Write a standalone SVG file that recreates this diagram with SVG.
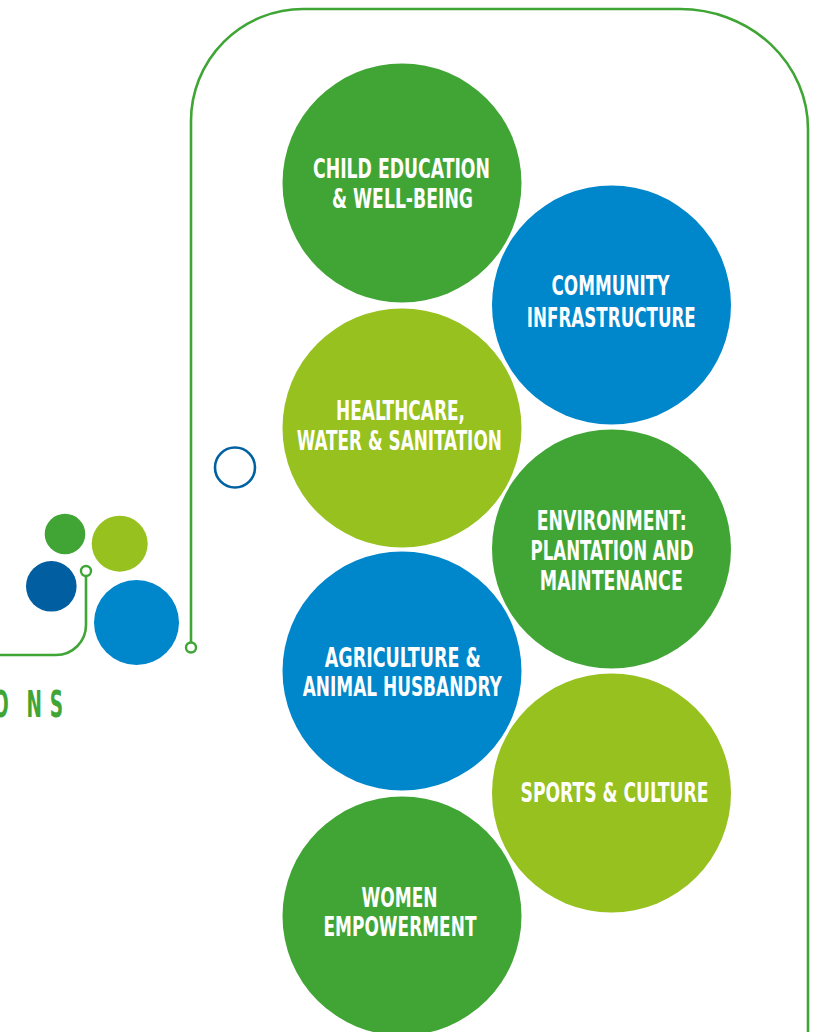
<svg xmlns="http://www.w3.org/2000/svg" width="821" height="1032" viewBox="0 0 821 1032">
<defs>
<style>
.frame{fill:none;stroke:#3fa535;stroke-width:2.6}
.g{fill:#40a535}.b{fill:#0086cb}.l{fill:#96c11f}.d{fill:#005ea1}
.t{fill:#ffffff;font-family:"DejaVu Sans Condensed","Liberation Sans Narrow","DejaVu Sans",sans-serif;font-weight:bold;font-size:27px;text-anchor:middle}
.ring{fill:#ffffff;stroke:#3fa535;stroke-width:2.4}
</style>
</defs>
<rect width="821" height="1032" fill="#ffffff"/>
<g id="connectors">
<path class="frame" d="M191,642 V121 A112,112 0 0 1 303,9 H680 A128,120 0 0 1 808,129 V1032"/>
<path class="frame" d="M86,576 V625 A30,30 0 0 1 56,655 H0"/>
</g>
<g id="logo">
<circle class="g" cx="65" cy="534" r="20.3"/>
<circle class="l" cx="119.7" cy="543.7" r="28"/>
<circle class="d" cx="51.3" cy="586.3" r="25.3"/>
<circle class="b" cx="136.5" cy="622.5" r="42.5"/>
<circle class="ring" cx="86" cy="571" r="5"/>
<circle class="ring" cx="191" cy="647.5" r="5"/>
<text transform="translate(0,717) scale(0.54,1)" fill="#40a535" font-family="DejaVu Sans Condensed, DejaVu Sans, sans-serif" font-weight="bold" font-size="38" x="-13 49 92">ONS</text>
</g>
<g id="marker-ring">
<circle cx="235" cy="467.5" r="20" fill="none" stroke="#0061a2" stroke-width="2.6"/>
</g>
<g id="child-education">
<circle class="g" cx="402" cy="183" r="119.5"/>
<text class="t" x="401.5" y="178" textLength="177" lengthAdjust="spacingAndGlyphs">CHILD EDUCATION</text>
<text class="t" x="402.5" y="208" textLength="141" lengthAdjust="spacingAndGlyphs">&amp; WELL-BEING</text>
</g>
<g id="community-infrastructure">
<circle class="b" cx="611.5" cy="305" r="119.5"/>
<text class="t" x="610.5" y="295" textLength="118" lengthAdjust="spacingAndGlyphs">COMMUNITY</text>
<text class="t" x="611.3" y="326.5" textLength="169" lengthAdjust="spacingAndGlyphs">INFRASTRUCTURE</text>
</g>
<g id="healthcare">
<circle class="l" cx="402" cy="428" r="119.5"/>
<text class="t" x="400.5" y="420" textLength="129" lengthAdjust="spacingAndGlyphs">HEALTHCARE,</text>
<text class="t" x="399.3" y="450" textLength="205" lengthAdjust="spacingAndGlyphs">WATER &amp; SANITATION</text>
</g>
<g id="environment">
<circle class="g" cx="611.5" cy="549" r="119.5"/>
<text class="t" x="611.7" y="530" textLength="150" lengthAdjust="spacingAndGlyphs">ENVIRONMENT:</text>
<text class="t" x="612" y="560" textLength="163" lengthAdjust="spacingAndGlyphs">PLANTATION AND</text>
<text class="t" x="611.3" y="590" textLength="143" lengthAdjust="spacingAndGlyphs">MAINTENANCE</text>
</g>
<g id="agriculture">
<circle class="b" cx="402" cy="671" r="119.5"/>
<text class="t" x="402.8" y="666.5" textLength="156" lengthAdjust="spacingAndGlyphs">AGRICULTURE &amp;</text>
<text class="t" x="402.2" y="695.5" textLength="199" lengthAdjust="spacingAndGlyphs">ANIMAL HUSBANDRY</text>
</g>
<g id="sports-culture">
<circle class="l" cx="611.5" cy="793" r="119.5"/>
<text class="t" x="614.5" y="802" textLength="188" lengthAdjust="spacingAndGlyphs">SPORTS &amp; CULTURE</text>
</g>
<g id="women-empowerment">
<circle class="g" cx="402" cy="916" r="119.5"/>
<text class="t" x="399.5" y="906.5" textLength="76" lengthAdjust="spacingAndGlyphs">WOMEN</text>
<text class="t" x="400" y="935.5" textLength="153" lengthAdjust="spacingAndGlyphs">EMPOWERMENT</text>
</g>
</svg>
